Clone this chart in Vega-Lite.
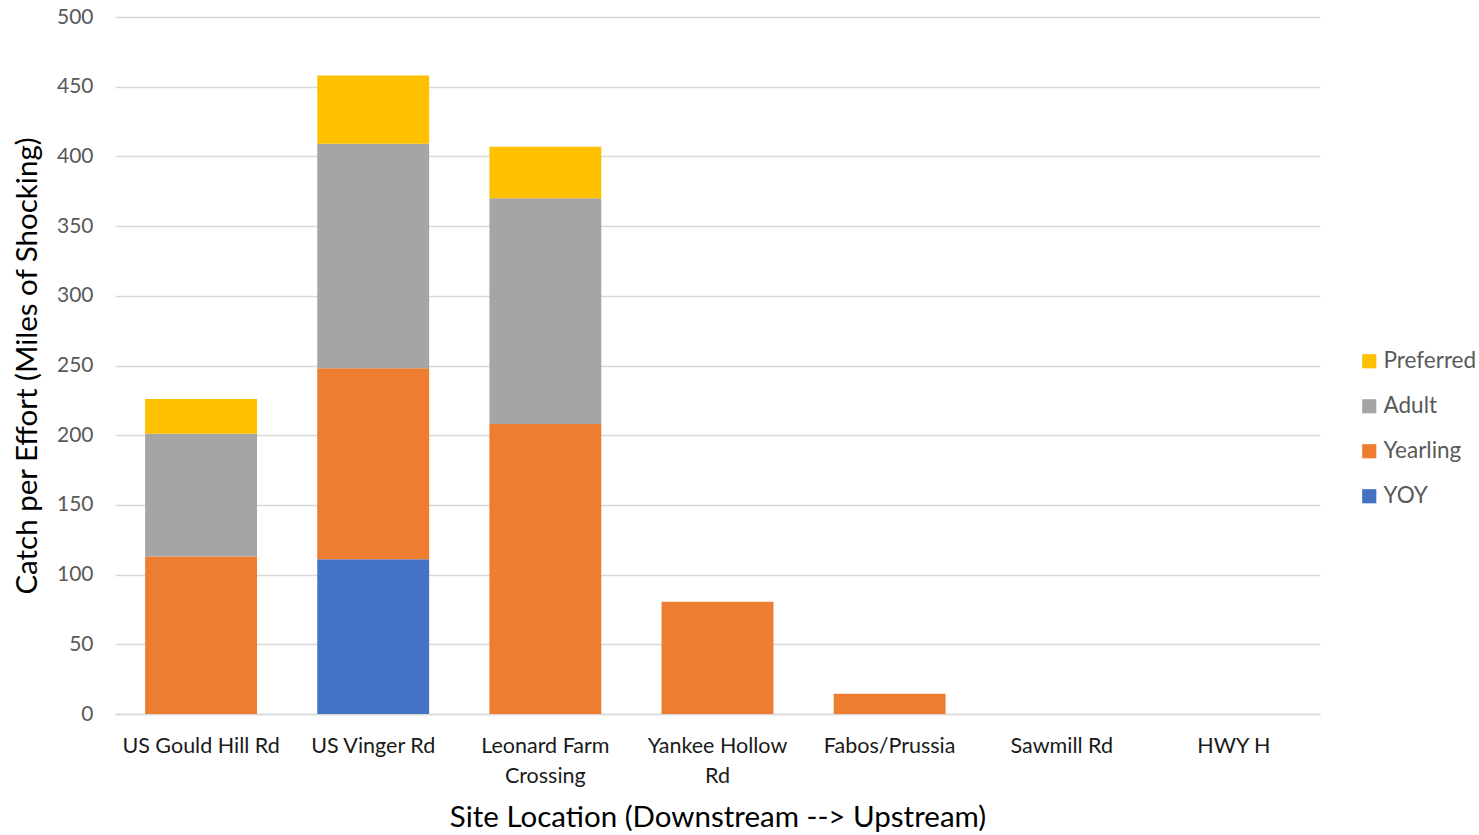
{
  "$schema": "https://vega.github.io/schema/vega-lite/v6.json",
  "width": 1205,
  "height": 697,
  "autosize": {"type": "none"},
  "padding": {"left": 115, "top": 17, "right": 159, "bottom": 121},
  "background": "white",
  "config": {
    "font": "Lato",
    "view": {"stroke": null}
  },
  "data": {
    "values": [
      {"site": "US Gould Hill Rd", "stage": "Yearling", "ord": 2, "cpe": 113},
      {"site": "US Gould Hill Rd", "stage": "Adult", "ord": 3, "cpe": 88},
      {"site": "US Gould Hill Rd", "stage": "Preferred", "ord": 4, "cpe": 25},
      {"site": "US Vinger Rd", "stage": "YOY", "ord": 1, "cpe": 111},
      {"site": "US Vinger Rd", "stage": "Yearling", "ord": 2, "cpe": 137},
      {"site": "US Vinger Rd", "stage": "Adult", "ord": 3, "cpe": 161},
      {"site": "US Vinger Rd", "stage": "Preferred", "ord": 4, "cpe": 49},
      {"site": "Leonard Farm Crossing", "stage": "Yearling", "ord": 2, "cpe": 208},
      {"site": "Leonard Farm Crossing", "stage": "Adult", "ord": 3, "cpe": 162},
      {"site": "Leonard Farm Crossing", "stage": "Preferred", "ord": 4, "cpe": 37},
      {"site": "Yankee Hollow Rd", "stage": "Yearling", "ord": 2, "cpe": 80.5},
      {"site": "Fabos/Prussia", "stage": "Yearling", "ord": 2, "cpe": 14.5},
      {"site": "Sawmill Rd", "stage": "Yearling", "ord": 2, "cpe": 0},
      {"site": "HWY H", "stage": "Yearling", "ord": 2, "cpe": 0}
    ]
  },
  "mark": {"type": "bar"},
  "encoding": {
    "x": {
      "field": "site",
      "type": "nominal",
      "sort": null,
      "scale": {
        "domain": ["US Gould Hill Rd", "US Vinger Rd", "Leonard Farm Crossing", "Yankee Hollow Rd", "Fabos/Prussia", "Sawmill Rd", "HWY H"],
        "paddingInner": 0.35,
        "paddingOuter": 0.175
      },
      "axis": {
        "title": "Site Location (Downstream --> Upstream)",
        "titleFontSize": 29.5,
        "titleFontWeight": "normal",
        "titleColor": "#000000",
        "titlePadding": 17,
        "labelAngle": 0,
        "labelFontSize": 21.5,
        "labelColor": "#1a1a1a",
        "labelPadding": 21,
        "labelLineHeight": 30,
        "labelExpr": "datum.label == 'Leonard Farm Crossing' ? ['Leonard Farm', 'Crossing'] : datum.label == 'Yankee Hollow Rd' ? ['Yankee Hollow', 'Rd'] : datum.label",
        "ticks": false,
        "domainColor": "#D9D9D9",
        "domainWidth": 1.5,
        "grid": false
      }
    },
    "y": {
      "field": "cpe",
      "type": "quantitative",
      "stack": "zero",
      "scale": {"domain": [0, 500], "nice": false},
      "axis": {
        "title": "Catch per Effort (Miles of Shocking)",
        "titleFontSize": 29.5,
        "titleFontWeight": "normal",
        "titleColor": "#000000",
        "titlePadding": 14,
        "values": [0, 50, 100, 150, 200, 250, 300, 350, 400, 450, 500],
        "labelFontSize": 21,
        "labelColor": "#595959",
        "labelPadding": 22,
        "ticks": false,
        "domain": false,
        "gridColor": "#D9D9D9",
        "gridWidth": 1.5
      }
    },
    "color": {
      "field": "stage",
      "type": "nominal",
      "scale": {
        "domain": ["Preferred", "Adult", "Yearling", "YOY"],
        "range": ["#FFC000", "#A5A5A5", "#ED7D31", "#4472C4"]
      },
      "legend": {
        "title": null,
        "orient": "none",
        "legendX": 1243,
        "legendY": 333,
        "symbolType": "square",
        "symbolSize": 200,
        "symbolStrokeWidth": 0,
        "labelFontSize": 22.5,
        "labelColor": "#595959",
        "labelOffset": 3,
        "rowPadding": 22
      }
    },
    "order": {"field": "ord", "type": "quantitative"}
  }
}
